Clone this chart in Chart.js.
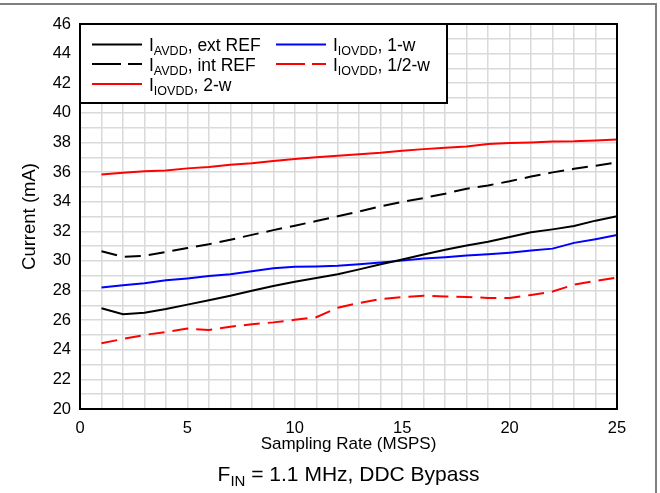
<!DOCTYPE html>
<html>
<head>
<meta charset="utf-8">
<script src="https://cdn.jsdelivr.net/npm/chart.js@4/dist/chart.umd.min.js"></script>
<style>
  body { margin: 0; background: #fff; font-family: Arial, "Liberation Sans", sans-serif; }
  #wrap { position: relative; width: 660px; height: 493px; overflow: hidden; }
  #frame { position: absolute; left: -4px; top: 3px; width: 659px; height: 500px;
           border-top: 2px solid #7f7f7f; border-right: 2px solid #7f7f7f; }
  #caption { position: absolute; left: 0; width: 697px; top: 462px; text-align: center;
             font-size: 21px; color: #000; }
  #caption sub { font-size: 15px; vertical-align: -5px; line-height: 0; }
  canvas { position: absolute; left: 0; top: 0; }
</style>
</head>
<body>
<div id="wrap">
  <div id="frame"></div>
  <canvas id="currentChart" width="660" height="493"></canvas>
  <div id="caption">F<sub>IN</sub> = 1.1 MHz, DDC Bypass</div>
</div>
<script>
// Sampling rate (MSPS)
const rates = [1, 2, 3, 4, 5, 6, 7, 8, 9, 10, 11, 12, 13, 14, 15, 16, 17, 18, 19, 20, 21, 22, 23, 24, 25];

// Current (mA) for each series
const avddExt = [26.8, 26.4, 26.5, 26.75, 27.05, 27.35, 27.65, 27.98, 28.3, 28.6, 28.85, 29.1, 29.43, 29.78, 30.1, 30.43, 30.75, 31.04, 31.3, 31.62, 31.93, 32.13, 32.36, 32.72, 33.02];
const avddInt = [30.65, 30.28, 30.35, 30.6, 30.87, 31.13, 31.43, 31.76, 32.08, 32.38, 32.69, 33.02, 33.34, 33.69, 33.98, 34.25, 34.54, 34.88, 35.1, 35.38, 35.7, 35.98, 36.22, 36.43, 36.65];
const iovdd2w = [35.84, 35.95, 36.05, 36.1, 36.25, 36.35, 36.5, 36.6, 36.75, 36.88, 37.0, 37.1, 37.2, 37.3, 37.44, 37.55, 37.64, 37.73, 37.9, 37.96, 38.0, 38.07, 38.08, 38.13, 38.2];
const iovdd1w = [28.2, 28.35, 28.5, 28.69, 28.82, 28.98, 29.1, 29.31, 29.5, 29.6, 29.63, 29.67, 29.78, 29.9, 30.02, 30.16, 30.25, 30.36, 30.45, 30.56, 30.7, 30.83, 31.22, 31.47, 31.75];
const iovddHalf = [24.44, 24.73, 25.0, 25.2, 25.43, 25.34, 25.56, 25.72, 25.85, 26.02, 26.2, 26.84, 27.16, 27.43, 27.56, 27.65, 27.6, 27.56, 27.5, 27.5, 27.7, 27.93, 28.4, 28.65, 28.87];

// Legend text: main letter, subscript, suffix
const seriesMain = ["I", "I", "I", "I", "I"];
const seriesSub = ["AVDD", "AVDD", "IOVDD", "IOVDD", "IOVDD"];
const seriesSuffix = [", ext REF", ", int REF", ", 2-w", ", 1-w", ", 1/2-w"];

const xTickStep = 5;
const yTickStep = 2;

const toPoints = arr => arr.map((v, i) => ({ x: rates[i], y: v }));
const dash = [16, 8];
const legendDash = [29, 7];

const series = [
  { values: avddExt, color: "#000000", dashed: false },
  { values: avddInt, color: "#000000", dashed: true },
  { values: iovdd2w, color: "#ff0000", dashed: false },
  { values: iovdd1w, color: "#0000ff", dashed: false },
  { values: iovddHalf, color: "#ff0000", dashed: true }
];

const FONT = "Arial, 'Liberation Sans', sans-serif";

// plot frame + legend box with subscripts
const extras = {
  id: "extras",
  afterDatasetsDraw(chart) {
    const { ctx, chartArea: a } = chart;
    ctx.save();
    ctx.strokeStyle = "#000";
    ctx.lineWidth = 2;
    ctx.strokeRect(a.left, a.top, a.right - a.left, a.bottom - a.top);

    // legend
    const lx = a.left, ly = a.top, lw = 367, lh = 79;
    ctx.fillStyle = "#fff";
    ctx.fillRect(lx, ly, lw, lh);
    ctx.strokeRect(lx, ly, lw, lh);

    const slots = [[0, 0], [0, 1], [0, 2], [1, 0], [1, 1]];
    const colX = [lx + 12, lx + 196];
    const rowY = [ly + 20.5, ly + 40, ly + 60];
    slots.forEach((s, i) => {
      const sx = colX[s[0]], sy = rowY[s[1]];
      ctx.beginPath();
      ctx.strokeStyle = series[i].color;
      ctx.lineWidth = 2;
      ctx.setLineDash(series[i].dashed ? legendDash : []);
      ctx.moveTo(sx, sy);
      ctx.lineTo(sx + 50, sy);
      ctx.stroke();
      ctx.setLineDash([]);

      let tx = sx + 57;
      const by = sy + 6.5;
      ctx.fillStyle = "#000";
      ctx.textBaseline = "alphabetic";
      ctx.font = "17.5px " + FONT;
      ctx.fillText(seriesMain[i], tx, by);
      tx += ctx.measureText(seriesMain[i]).width;
      ctx.font = "12.5px " + FONT;
      ctx.fillText(seriesSub[i], tx, by + 4);
      tx += ctx.measureText(seriesSub[i]).width;
      ctx.font = "17.5px " + FONT;
      ctx.fillText(seriesSuffix[i], tx, by);
    });
    ctx.restore();
  }
};

const ctx = document.getElementById("currentChart").getContext("2d");

new Chart(ctx, {
  type: "line",
  data: {
    datasets: series.map((s, i) => ({
      label: seriesMain[i] + seriesSub[i] + seriesSuffix[i],
      data: toPoints(s.values),
      borderColor: s.color,
      borderWidth: 2,
      borderDash: s.dashed ? dash : [],
      pointRadius: 0,
      fill: false,
      tension: 0
    }))
  },
  options: {
    responsive: false,
    animation: false,
    layout: { padding: { top: 24, right: 43, left: 0, bottom: 38 } },
    plugins: {
      legend: { display: false },
      tooltip: { enabled: false }
    },
    scales: {
      x: {
        type: "linear",
        min: 0,
        max: 25,
        afterFit: scale => { scale.height = 46; },
        grid: { color: "#dadada", lineWidth: 1.5, drawTicks: false },
        border: { display: false },
        ticks: {
          stepSize: 1,
          autoSkip: false,
          maxRotation: 0,
          padding: 10,
          color: "#000",
          font: { family: FONT, size: 16.5 },
          callback: v => (v % xTickStep === 0 ? v : "")
        },
        title: {
          display: true,
          text: "Sampling Rate (MSPS)",
          color: "#000",
          font: { family: FONT, size: 17 },
          padding: { top: 0, bottom: 0 }
        }
      },
      y: {
        min: 20,
        max: 46,
        afterFit: scale => { scale.width = 80; },
        grid: { color: "#dadada", lineWidth: 1.5, drawTicks: false },
        border: { display: false },
        ticks: {
          stepSize: 1,
          autoSkip: false,
          padding: 9,
          color: "#000",
          font: { family: FONT, size: 16.5 },
          callback: v => (v % yTickStep === 0 ? v : "")
        },
        title: {
          display: true,
          text: "Current (mA)",
          color: "#000",
          font: { family: FONT, size: 18.5 },
          padding: { top: 19, bottom: 0 }
        }
      }
    }
  },
  plugins: [extras]
});
</script>
</body>
</html>
